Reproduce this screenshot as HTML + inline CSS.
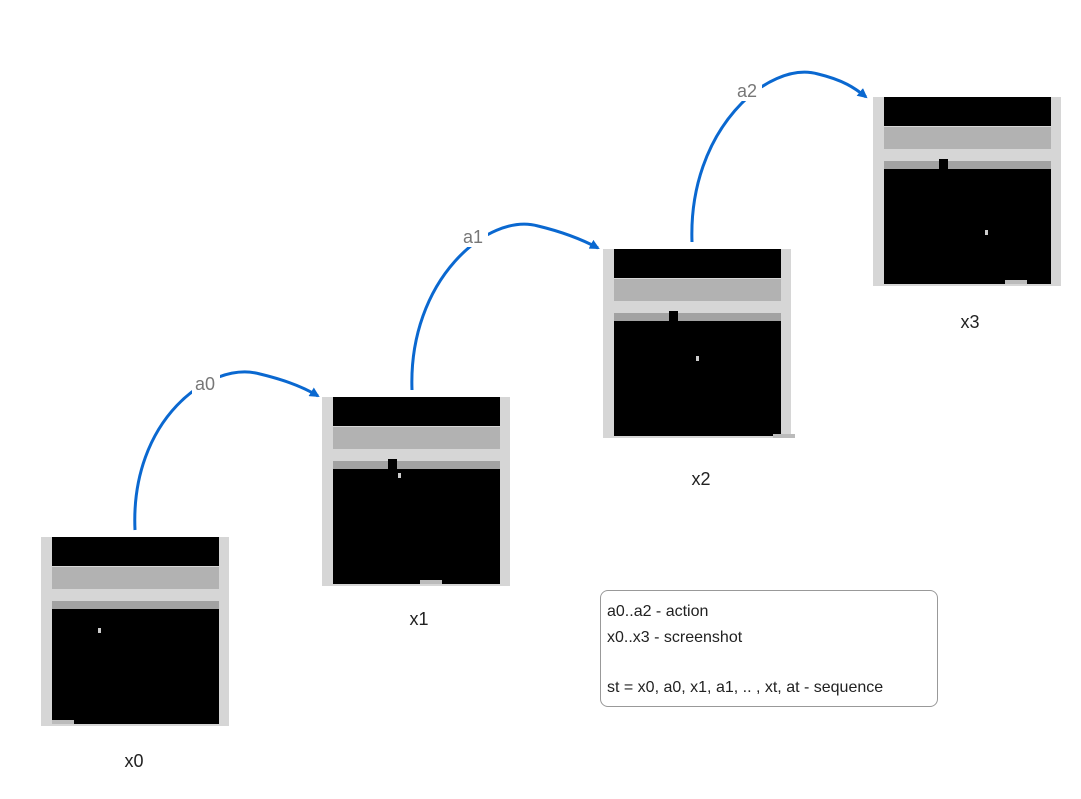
<!DOCTYPE html>
<html><head><meta charset="utf-8"><style>
body{margin:0;background:#fff;width:1081px;height:799px;overflow:hidden;position:relative;font-family:"Liberation Sans",sans-serif}
.frame{position:absolute;width:188px;height:189px;background:#d6d6d6}
.frame div{position:absolute}
.lbl{position:absolute;font-size:18px;color:#222;transform:translateX(-50%)}
.legend{position:absolute;left:600px;top:590px;width:338px;height:117px;border:1px solid #999;border-radius:8px;font-size:16px;color:#222;line-height:26px;padding:8px 6px;box-sizing:border-box}
</style></head><body>
<svg width="1081" height="799" style="position:absolute;left:0;top:0">
<defs><marker id="ah" markerWidth="10" markerHeight="10" refX="8" refY="5" orient="auto" markerUnits="userSpaceOnUse"><path d="M0,0 L10,5 L0,10 z" fill="#0a68d0"/></marker></defs>
<g fill="none" stroke="#0a68d0" stroke-width="3">
<path d="M135,530 C130,420 210,360 260,374 C285,380 305,388 318,396" marker-end="url(#ah)"/>
<path d="M412,390 C408,280 488,212 538,226 C563,232 583,240 598,248" marker-end="url(#ah)"/>
<path d="M692,242 C688,130 768,60 818,74 C843,80 855,88 866,97" marker-end="url(#ah)"/>
</g>
<g font-size="18" fill="#777" font-family="Liberation Sans, sans-serif" text-anchor="middle">
<rect x="192" y="372" width="28" height="22" fill="#fff"/><text x="205" y="390">a0</text>
<rect x="460" y="225" width="28" height="22" fill="#fff"/><text x="473" y="243">a1</text>
<rect x="734" y="79" width="28" height="22" fill="#fff"/><text x="747" y="97">a2</text>
</g>
</svg>
<div id="frames"></div>
<div class="lbl" style="left:134px;top:751px">x0</div>
<div class="lbl" style="left:419px;top:609px">x1</div>
<div class="lbl" style="left:701px;top:469px">x2</div>
<div class="lbl" style="left:970px;top:312px">x3</div>
<div class="legend">
<div>a0..a2 - action</div>
<div>x0..x3 - screenshot</div>
<div style="height:24px"></div>
<div>st = x0, a0, x1, a1, .. , xt, at - sequence</div>
</div>
<script>
const frameLeft=[41,322,603,873];
const frameTop=[537,397,249,97];
const ballX=[57,76,93,112];
const ballY=[91,76,107,133];
const paddleX=[11,98,170,132];
const ctr=document.getElementById('frames');
for(let i=0;i<4;i++){
  const f=document.createElement('div');
  f.className='frame';
  f.style.left=frameLeft[i]+'px';f.style.top=frameTop[i]+'px';
  
  
  f.innerHTML=
   '<div style="left:11px;top:0;width:167px;height:29px;background:#000"></div>'+
   '<div style="left:11px;top:30px;width:167px;height:22px;background:#b2b2b2"></div>'+
   '<div style="left:11px;top:64px;width:167px;height:8px;background:#a2a2a2"></div>'+
   '<div style="left:11px;top:72px;width:167px;height:115px;background:#000"></div>'+
   (i>0?'<div style="left:66px;top:62px;width:9px;height:10px;background:#000"></div>':'')+
   '<div style="left:'+ballX[i]+'px;top:'+ballY[i]+'px;width:3px;height:5px;background:#ccc"></div>'+
   '<div style="left:'+paddleX[i]+'px;top:'+(i==2?185:183)+'px;width:22px;height:4px;background:#bbb"></div>';
  ctr.appendChild(f);
}
</script>
</body></html>
